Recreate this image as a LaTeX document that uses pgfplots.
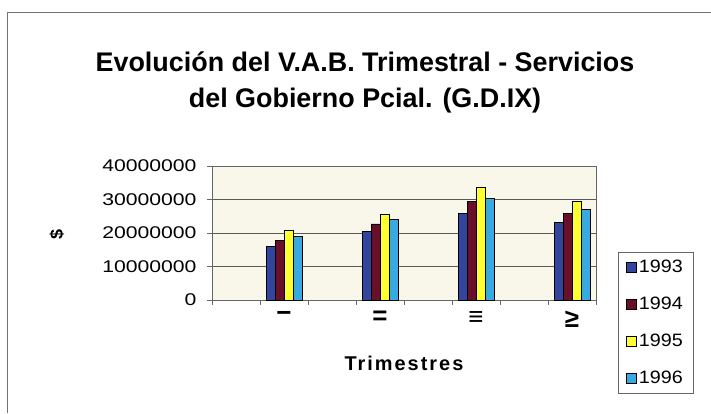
\documentclass[border=0pt]{standalone}
\usepackage{pgfplots}
\pgfplotsset{compat=1.18}
\usepackage{fontspec}
\setmainfont{Liberation Sans}
\newfontfamily\tickfont[FakeStretch=1.25]{Liberation Sans}
\newfontfamily\legfont[FakeStretch=1.1]{Liberation Sans}
\newfontfamily\spacedfont[LetterSpace=10]{Liberation Sans}
\definecolor{c93}{RGB}{50,70,160}
\definecolor{c94}{RGB}{105,15,40}
\definecolor{c95}{RGB}{255,255,50}
\definecolor{c96}{RGB}{55,170,225}
\definecolor{bgc}{RGB}{249,247,234}
\begin{document}
\begin{tikzpicture}[x=1bp,y=1bp]
\path[use as bounding box] (0,0) rectangle (711,413);
\draw[black!55, line width=1bp] (7,0) -- (7,400) -- (711,400);
\node[font=\bfseries\fontsize{27}{36}\selectfont, align=center] at (365,331) {Evolución del V.A.B. Trimestral - Servicios\\del Gobierno Pcial. (G.D.IX)};
\node[font=\bfseries\fontsize{18}{18}\selectfont, rotate=90] at (57,178) {\$};
\node[font=\spacedfont\bfseries\fontsize{20}{20}\selectfont] at (404,50) {Trimestres};
\begin{axis}[
  at={(212bp,113bp)}, anchor=south west,
  scale only axis, width=384bp, height=134bp,
  xmin=0, xmax=8, ymin=0, ymax=40000000,
  ybar=0pt, bar width=9bp,
  axis background/.style={fill=bgc},
  axis line style={black!60, line width=0.8bp},
  xtick pos=bottom, ytick pos=left,
  xtick={0,1,...,8}, xticklabels={},
  tick align=outside, major tick length=5bp,
  tick style={black!60, line width=0.8bp},
  extra x ticks={1.5,3.5,5.5,7.5},
  extra x tick labels={−,=,≡,≥},
  extra x tick style={major tick length=0pt, grid=none},
  xticklabel style={font=\bfseries\fontsize{26}{26}\selectfont, yshift=-8bp},
  scaled y ticks=false,
  ytick={0,10000000,20000000,30000000,40000000},
  yticklabels={0,10000000,20000000,30000000,40000000},
  yticklabel style={font=\tickfont\fontsize{17}{17}\selectfont, xshift=-7bp},
  /pgf/number format/assume math mode=true,
  ymajorgrids, grid style={black!65, line width=0.8bp},
  every axis plot/.append style={draw=black, line width=0.9bp,
     legend image code/.code={\draw[##1, draw=black, line width=0.9bp] (0bp,-5bp) rectangle (10bp,5bp);}},
  legend style={at={(1.057,0.358)}, anchor=north west, draw=black!60,
     font=\legfont\fontsize{18}{18}\selectfont, row sep=19bp,
     inner xsep=8bp, inner ysep=6bp, cells={anchor=west}},
]
\addplot[fill=c93] coordinates {(1.5,16100000) (3.5,20400000) (5.5,25800000) (7.5,23100000)};
\addplot[fill=c94] coordinates {(1.5,17900000) (3.5,22700000) (5.5,29400000) (7.5,25900000)};
\addplot[fill=c95] coordinates {(1.5,20800000) (3.5,25600000) (5.5,33500000) (7.5,29400000)};
\addplot[fill=c96] coordinates {(1.5,19100000) (3.5,24000000) (5.5,30400000) (7.5,27000000)};
\legend{1993,1994,1995,1996}
\end{axis}
\end{tikzpicture}
\end{document}
